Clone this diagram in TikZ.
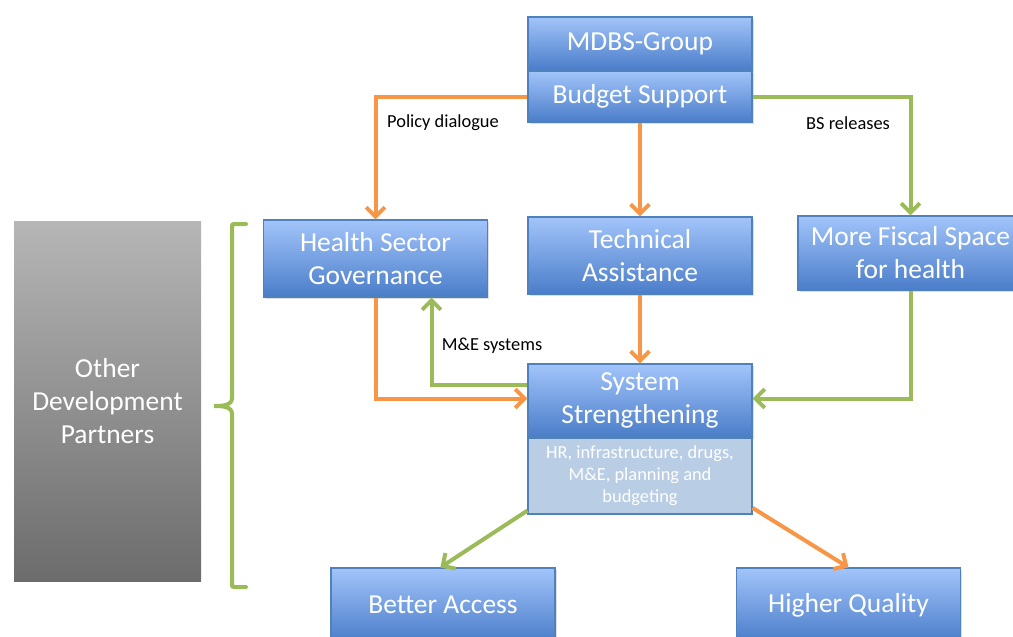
\documentclass[tikz,border=0pt]{standalone}
\usepackage{fontspec}
\setmainfont{Carlito}
\usetikzlibrary{arrows.meta,shadows}
\definecolor{boxtop}{HTML}{A2C4FA}
\definecolor{boxbot}{HTML}{4A7DC9}
\definecolor{boxline}{HTML}{4F81BD}
\definecolor{orng}{HTML}{F79646}
\definecolor{grn}{HTML}{9BBB59}
\definecolor{detailfill}{HTML}{B9CDE5}
\definecolor{greytop}{HTML}{B6B6B6}
\definecolor{greybot}{HTML}{6C6C6C}
\newcommand{\bigtxt}{\fontsize{20.6}{24.75}\selectfont}
\newcommand{\smalltxt}{\fontsize{13.8}{16.5}\selectfont}

\begin{document}
\begin{tikzpicture}[x=0.75pt,y=-0.75pt,
   bluebox/.style={draw=boxline, line width=0.8pt, top color=boxtop, bottom color=boxbot,
      text=white, align=center, inner sep=0pt, minimum width=168pt, font=\bigtxt,
      drop shadow={opacity=0.25, shadow xshift=1.2pt, shadow yshift=-1.2pt}},
   detailbox/.style={draw=boxline, line width=0.8pt, fill=detailfill, text=white,
      align=center, inner sep=0pt, minimum width=168pt, minimum height=57pt, font=\smalltxt},
   oarrow/.style={draw=orng, line width=3pt, -{Straight Barb[length=7pt,width=14pt]}},
   garrow/.style={draw=grn, line width=3pt, -{Straight Barb[length=7pt,width=14pt]}},
   lbl/.style={font=\smalltxt, text=black}]
   \useasboundingbox (0,0) rectangle (1013,636);
   \clip (0,0) rectangle (1013,636);

   \node[bluebox, minimum height=39.75pt] (mdbs) at (640,43.5) {MDBS-Group};
   \node[bluebox, minimum height=38.25pt] (budget) at (640,96.5) {Budget Support};
   \node[bluebox, minimum height=57.75pt] (hsg) at (375.5,258.5) {Health Sector\\Governance};
   \node[bluebox, minimum height=57.75pt] (ta) at (640,255.5) {Technical\\Assistance};
   \node[bluebox, minimum height=55.5pt, minimum width=168.75pt] (fiscal) at (910.5,253) {More Fiscal Space\\for health};
   \node[bluebox, minimum height=54.75pt] (sys) at (640,400.5) {System\\Strengthening};
   \node[detailbox] (detail) at (640,476) {HR, infrastructure, drugs,\\M\&E, planning and\\budgeting};
   \node[bluebox, minimum height=55.5pt] (access) at (443,605) {Better Access};
   \node[bluebox, minimum height=55.5pt] (quality) at (848.5,605) {Higher Quality};
   \node[top color=greytop, bottom color=greybot, text=white, align=center, inner sep=0pt,
      minimum width=140.25pt, minimum height=270pt, font=\bigtxt] (odp) at (107.5,401)
      {Other\\Development\\Partners};

   \draw[oarrow] (budget.west) -| (hsg.north);
   \draw[oarrow] (budget.south) -- (ta.north);
   \draw[garrow] (budget.east) -| (fiscal.north);
   \draw[oarrow] (hsg.south) |- ([yshift=1.5pt]sys.west);
   \draw[garrow] ([yshift=12pt]sys.west) -| ([xshift=42pt]hsg.south);
   \draw[oarrow] (ta.south) -- (sys.north);
   \draw[garrow] (fiscal.south) |- ([yshift=1.5pt]sys.east);
   \draw[garrow] ([yshift=3pt]detail.south west) -- ([xshift=-2pt]access.north);
   \draw[oarrow] ([yshift=5pt]detail.south east) -- (quality.north);

   \draw(443,123) node[lbl] {Policy dialogue};
   \draw(848,123) node[lbl] {BS releases};
   \draw(492,346) node[lbl] {M\&E systems};

   \draw[grn, line width=3pt, line cap=round] (246,224) -- (236,224)
      .. controls (232,224) .. (232,228) -- (232,398)
      .. controls (232,405) and (224,406) .. (214,406)
      .. controls (224,406) and (232,407) .. (232,414) -- (232,583)
      .. controls (232,587) .. (236,587) -- (246,587);
\end{tikzpicture}
\end{document}
